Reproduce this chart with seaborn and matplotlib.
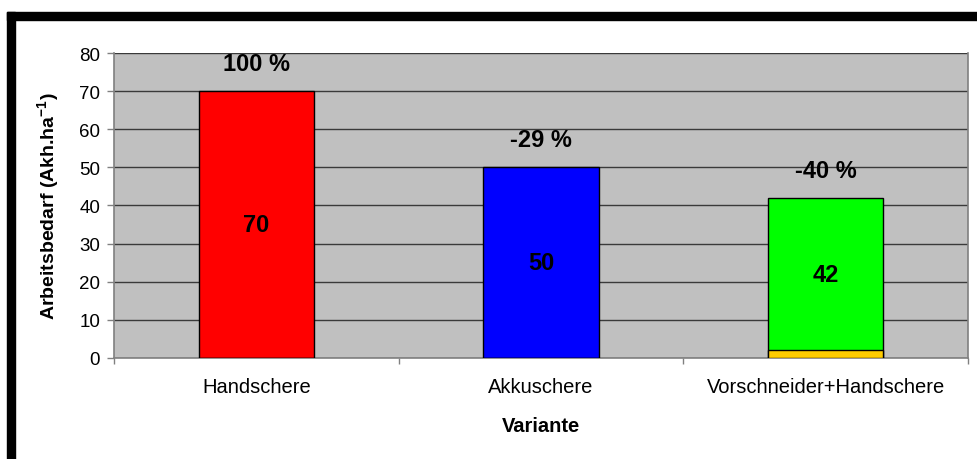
import matplotlib
matplotlib.use("Agg")
import matplotlib.pyplot as plt
import matplotlib.patches as mpatches
import seaborn as sns
import pandas as pd

# Labour demand per variant (Akh/ha)
categories = ["Handschere", "Akkuschere", "Vorschneider+Handschere"]
totals = [70, 50, 42]
base_part = [0, 0, 2]          # pre-pruner share inside the last bar
pct_labels = ["100 %", "-29 %", "-40 %"]
bar_colors = ["#FF0000", "#0000FF", "#00FF00"]
base_color = "#FFCC00"
y_ticks = [0, 10, 20, 30, 40, 50, 60, 70, 80]

sns.set_theme(style="white")
plt.rcParams["font.family"] = ["Liberation Sans", "DejaVu Sans"]
plt.rcParams["text.color"] = "black"
plt.rcParams["axes.labelcolor"] = "black"

fig = plt.figure(figsize=(9.77, 4.6), dpi=100)
ax = fig.add_axes([0.1167, 0.2196, 0.8741, 0.663])
ax.set_facecolor("#C0C0C0")

df = pd.DataFrame({"Variante": categories, "Total": totals, "Basis": base_part})

sns.barplot(data=df, x="Variante", y="Total", hue="Variante", palette=bar_colors,
            order=categories, width=0.405, edgecolor="black", linewidth=1,
            legend=False, ax=ax, zorder=3, saturation=1)
sns.barplot(data=df, x="Variante", y="Basis", order=categories, color=base_color,
            width=0.405, edgecolor="black", linewidth=1, ax=ax, zorder=4,
            saturation=1)

ax.set_ylim(0, 80)
ax.set_xlim(-0.5, 2.5)
ax.set_yticks(y_ticks)
ax.set_yticklabels([str(v) for v in y_ticks], fontsize=13.5)
ax.yaxis.grid(True, color="#3a3a3a", linewidth=1, zorder=0)
ax.set_axisbelow(True)

for s in ["left", "bottom", "right", "top"]:
    ax.spines[s].set_color("#808080")
    ax.spines[s].set_linewidth(1.2)
ax.spines["top"].set_visible(False)

ax.tick_params(axis="y", which="major", left=True, length=5, color="#808080",
               width=1, pad=5, labelcolor="black")
ax.tick_params(axis="x", which="major", bottom=False, length=0, pad=14,
               labelsize=14.5, labelcolor="black")
ax.set_xticks([-0.5, 0.5, 1.5, 2.5], minor=True)
ax.tick_params(axis="x", which="minor", bottom=True, length=4, color="#808080", width=1)

# Values inside the bars and change labels above them
for i, (tot, b, pct) in enumerate(zip(totals, base_part, pct_labels)):
    ax.text(i, (tot + b) / 2, str(tot), ha="center", va="center",
            fontsize=17, fontweight="bold", color="black", zorder=6)
    ax.annotate(pct, xy=(i, tot), xytext=(0, 20), textcoords="offset points",
                ha="center", va="center", fontsize=17, fontweight="bold",
                color="black", zorder=6, annotation_clip=False)

ax.set_xlabel("Variante", fontsize=14.5, fontweight="bold", labelpad=14,
              color="black")
ax.set_ylabel("Arbeitsbedarf (Akh.ha$^{\\mathregular{-1}}$)", fontsize=14,
              fontweight="bold", labelpad=12, color="black")

# Black frame at top and left of the figure
fig.patches.append(mpatches.Rectangle((7 / 977, 0), 8 / 977, (460 - 13) / 460,
                                      transform=fig.transFigure, color="black",
                                      zorder=10))
fig.patches.append(mpatches.Rectangle((7 / 977, (460 - 21) / 460), 970 / 977, 8 / 460,
                                      transform=fig.transFigure, color="black",
                                      zorder=10))

fig.savefig("out.png", dpi=100)
